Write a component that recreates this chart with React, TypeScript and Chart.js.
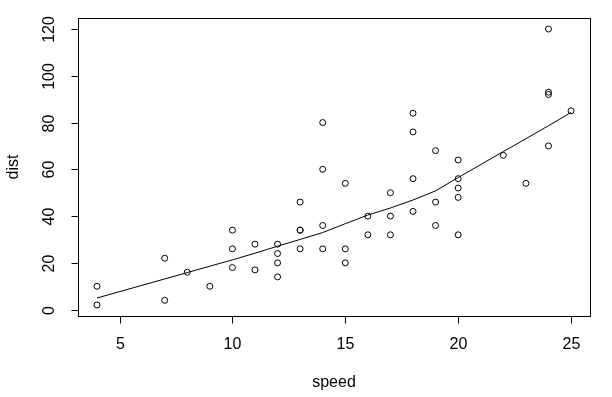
import React, { useEffect, useRef } from "react";
import { Chart, registerables } from "chart.js";

Chart.register(...registerables);

const speed = [4, 4, 7, 7, 8, 9, 10, 10, 10, 11, 11, 12, 12, 12, 12, 13, 13, 13, 13, 14, 14, 14, 14, 15, 15, 15, 16, 16, 17, 17, 17, 18, 18, 18, 18, 19, 19, 19, 20, 20, 20, 20, 20, 22, 23, 24, 24, 24, 24, 25];
const dist = [2, 10, 4, 22, 16, 10, 18, 26, 34, 17, 28, 14, 20, 24, 28, 26, 34, 34, 46, 26, 36, 60, 80, 20, 26, 54, 32, 40, 32, 40, 50, 42, 56, 76, 84, 36, 46, 68, 32, 48, 52, 56, 64, 66, 54, 70, 92, 93, 120, 85];
const lowessX = [4, 7, 8, 9, 10, 11, 12, 13, 14, 15, 16, 17, 18, 19, 20, 22, 23, 24, 25];
const lowessY = [4.965, 13.124, 15.859, 18.580, 21.280, 24.129, 27.120, 30.027, 32.963, 36.758, 40.435, 43.463, 46.885, 50.793, 56.491, 67.586, 73.080, 78.643, 84.329];
const xTicks = [5, 10, 15, 20, 25];
const yTicks = [0, 20, 40, 60, 80, 100, 120];
const xTitle = "speed";
const yTitle = "dist";

const FONT = "16px 'Liberation Sans', Arial, sans-serif";

const rAxes = {
  id: "rAxes",
  afterDraw(chart: any) {
    const ctx = chart.ctx as CanvasRenderingContext2D;
    const a = chart.chartArea;
    const xs = chart.scales.x;
    const ys = chart.scales.y;
    ctx.save();
    ctx.strokeStyle = "#000";
    ctx.lineWidth = 1;
    ctx.strokeRect(Math.round(a.left) + 0.5, Math.round(a.top) + 0.5, Math.round(a.right - a.left), Math.round(a.bottom - a.top));
    ctx.fillStyle = "#000";
    ctx.font = FONT;
    const bottom = Math.round(a.bottom) + 0.5;
    const left = Math.round(a.left) + 0.5;
    // x axis
    ctx.beginPath();
    const x0 = Math.round(xs.getPixelForValue(xTicks[0])) + 0.5;
    const x1 = Math.round(xs.getPixelForValue(xTicks[xTicks.length - 1])) + 0.5;
    ctx.moveTo(x0, bottom);
    ctx.lineTo(x1, bottom);
    ctx.textAlign = "center";
    ctx.textBaseline = "middle";
    xTicks.forEach((v) => {
      const px = Math.round(xs.getPixelForValue(v)) + 0.5;
      ctx.moveTo(px, bottom);
      ctx.lineTo(px, bottom + 7);
      ctx.fillText(String(v), px, 345);
    });
    // y axis
    const y0 = Math.round(ys.getPixelForValue(yTicks[0])) + 0.5;
    const y1 = Math.round(ys.getPixelForValue(yTicks[yTicks.length - 1])) + 0.5;
    ctx.moveTo(left, y0);
    ctx.lineTo(left, y1);
    ctx.stroke();
    ctx.beginPath();
    yTicks.forEach((v) => {
      const py = Math.round(ys.getPixelForValue(v)) + 0.5;
      ctx.moveTo(left - 7, py);
      ctx.lineTo(left, py);
      ctx.save();
      ctx.translate(50, py);
      ctx.rotate(-Math.PI / 2);
      ctx.fillText(String(v), 0, 0);
      ctx.restore();
    });
    ctx.stroke();
    // titles
    ctx.fillText(xTitle, (a.left + a.right) / 2, 383);
    ctx.save();
    ctx.translate(14, (a.top + a.bottom) / 2);
    ctx.rotate(-Math.PI / 2);
    ctx.fillText(yTitle, 0, 0);
    ctx.restore();
    ctx.restore();
  },
};

export default function App() {
  const ref = useRef<HTMLCanvasElement>(null);
  useEffect(() => {
    document.body.style.margin = "0";
    const chart = new Chart(ref.current!, {
      type: "scatter",
      data: {
        datasets: [
          {
            data: speed.map((s, i) => ({ x: s, y: dist[i] })),
            pointStyle: "circle",
            pointRadius: 3,
            backgroundColor: "rgba(0,0,0,0)",
            borderColor: "#000",
            borderWidth: 1,
            showLine: false,
          },
          {
            data: lowessX.map((s, i) => ({ x: s, y: lowessY[i] })),
            showLine: true,
            pointRadius: 0,
            borderColor: "#000",
            borderWidth: 1,
            fill: false,
          },
        ],
      },
      options: {
        animation: false,
        responsive: false,
        devicePixelRatio: 1,
        layout: { padding: { left: 78, right: 22, top: 18, bottom: 81 } },
        plugins: { legend: { display: false }, tooltip: { enabled: false } },
        scales: {
          x: { type: "linear", min: 3.16, max: 25.84, display: false },
          y: { type: "linear", min: -2.72, max: 124.72, display: false },
        },
      },
      plugins: [rAxes],
    });
    return () => chart.destroy();
  }, []);
  return (
    <div style={{ position: "absolute", left: 0, top: 0, width: 612, height: 397, background: "#fff" }}>
      <canvas ref={ref} width={612} height={397} style={{ width: 612, height: 397 }} />
    </div>
  );
}
